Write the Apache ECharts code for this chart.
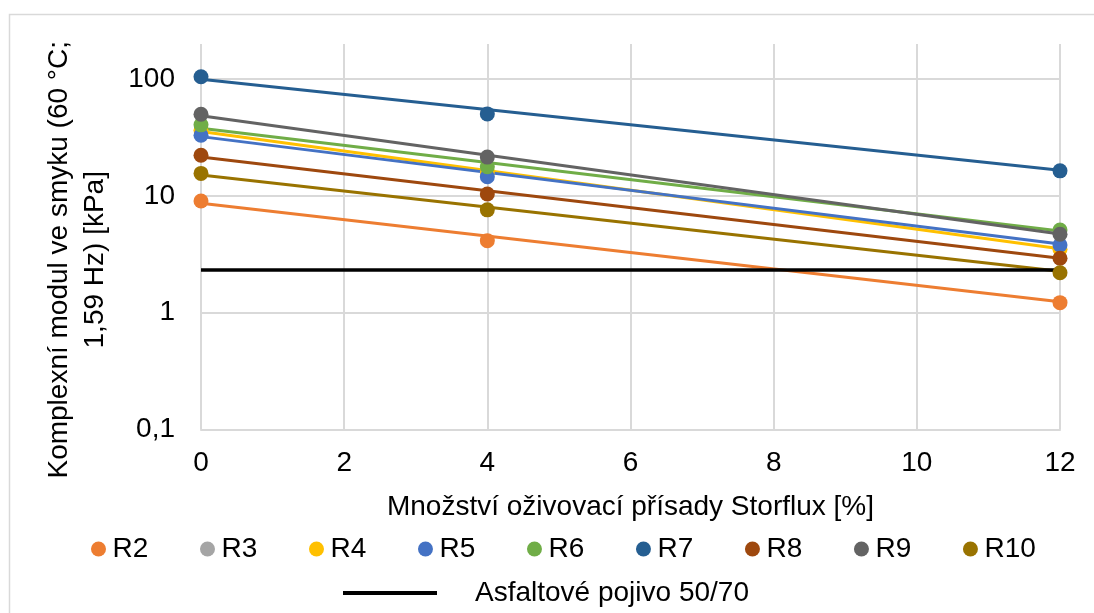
<!DOCTYPE html>
<html>
<head>
<meta charset="utf-8">
<script src="https://cdn.jsdelivr.net/npm/echarts@6/dist/echarts.min.js"></script>
<style>
html,body{margin:0;padding:0;background:#fff;}
#chart{width:1094px;height:613px;}
</style>
</head>
<body>
<div id="chart"></div>
<script>
// x positions (amount of Storflux additive, %)
const xValues = [0, 4, 12];
const seriesNames = ['R2', 'R3', 'R4', 'R5', 'R6', 'R7', 'R8', 'R9', 'R10'];
const seriesColors = ['#ED7D31', '#A5A5A5', '#FFC000', '#4472C4', '#70AD47', '#255E91', '#9E480E', '#636363', '#997300'];
// measured values (kPa) at x = 0, 4, 12
const R2 = [9.06, 4.14, 1.22];
const R3 = [];
const R4 = [36.5, 16.0, 3.5];
const R5 = [33.1, 14.6, 3.8];
const R6 = [40.6, 17.8, 5.1];
const R7 = [105, 50.4, 16.4];
const R8 = [22.3, 10.4, 2.93];
const R9 = [50, 21.5, 4.7];
const R10 = [15.6, 7.6, 2.2];
// trendline values at x = 0 and x = 12
const trendX = [0, 12];
const T2 = [8.66, 1.24];
const T3 = [];
const T4 = [35.6, 3.53];
const T5 = [32.2, 3.88];
const T6 = [38, 5.0];
const T7 = [100, 16.6];
const T8 = [21.5, 2.93];
const T9 = [48.5, 4.72];
const T10 = [15.1, 2.26];
// reference binder
const refName = 'Asfaltové pojivo 50/70';
const refX = [0, 12];
const refY = [2.32, 2.32];
const yTickLabels = ['0,1', '1', '10', '100'];

const markerData = [R2, R3, R4, R5, R6, R7, R8, R9, R10];
const trendData = [T2, T3, T4, T5, T6, T7, T8, T9, T10];

const FONT = '"Liberation Sans", Arial, sans-serif';
const series = [];
seriesNames.forEach((n, i) => {
  series.push({
    name: n + ' trend', type: 'line', z: 2, silent: true, symbol: 'none',
    data: trendData[i].map((v, k) => [trendX[k], v]),
    lineStyle: {color: seriesColors[i], width: 3}, itemStyle: {color: seriesColors[i]}
  });
});
series.push({
  name: refName, type: 'line', z: 3, symbol: 'none',
  data: refY.map((v, k) => [refX[k], v]),
  lineStyle: {color: '#000', width: 3.5}, itemStyle: {color: '#000'}
});
seriesNames.forEach((n, i) => {
  series.push({
    name: n, type: 'scatter', z: 4, symbol: 'circle', symbolSize: 15,
    data: markerData[i].map((v, k) => [xValues[k], v]),
    itemStyle: {color: seriesColors[i], opacity: 1}
  });
});

const chart = echarts.init(document.getElementById('chart'), null, {renderer: 'canvas'});
chart.setOption({
  animation: false,
  backgroundColor: '#fff',
  textStyle: {fontFamily: FONT},
  graphic: [{
    type: 'rect', shape: {x: 9.5, y: 14.5, width: 1100, height: 640},
    style: {fill: 'none', stroke: '#d9d9d9', lineWidth: 1.5}, z: -1, silent: true
  }],
  grid: {left: 201, right: 34, top: 44, bottom: 183.5, outerBoundsMode: 'none', containLabel: false},
  xAxis: {
    type: 'value', min: 0, max: 12, interval: 2,
    name: 'Množství oživovací přísady Storflux [%]',
    nameLocation: 'middle', nameGap: 64,
    nameTextStyle: {fontSize: 28, color: '#000', fontFamily: FONT},
    axisLine: {show: true, lineStyle: {color: '#d9d9d9', width: 2}},
    axisTick: {show: false},
    axisLabel: {fontSize: 28, color: '#000', margin: 20, fontFamily: FONT},
    splitLine: {show: true, lineStyle: {color: '#d9d9d9', width: 2}}
  },
  yAxis: {
    type: 'log', logBase: 10, min: 0.1, max: 200,
    name: 'Komplexní modul ve smyku (60 °C;\n1,59 Hz) [kPa]',
    nameLocation: 'middle', nameGap: 88,
    nameTextStyle: {fontSize: 28, color: '#000', lineHeight: 36, fontFamily: FONT, padding: [0, 46, 0, 0]},
    axisLine: {show: false},
    axisTick: {show: false},
    axisLabel: {
      fontSize: 28, color: '#000', margin: 26, fontFamily: FONT, showMaxLabel: false,
      formatter: function (v) {
        const e = Math.round(Math.log10(v));
        const idx = e + 1;
        return (Math.abs(Math.log10(v) - e) < 1e-6 && idx >= 0 && idx < yTickLabels.length) ? yTickLabels[idx] : '';
      }
    },
    splitLine: {show: true, showMaxLine: false, lineStyle: {color: '#d9d9d9', width: 2}}
  },
  legend: [{
    data: seriesNames.map(n => ({name: n, icon: 'circle'})),
    left: 91, top: 535, padding: 0, itemGap: 51.7,
    itemWidth: 18, itemHeight: 15,
    textStyle: {fontSize: 28, color: '#000', fontFamily: FONT}
  }, {
    data: [{name: refName, icon: 'rect'}],
    left: 343, top: 579, padding: 0,
    itemWidth: 94, itemHeight: 4,
    textStyle: {fontSize: 28, color: '#000', fontFamily: FONT, padding: [0, 0, 0, 33]}
  }],
  series: series
});
</script>
</body>
</html>
